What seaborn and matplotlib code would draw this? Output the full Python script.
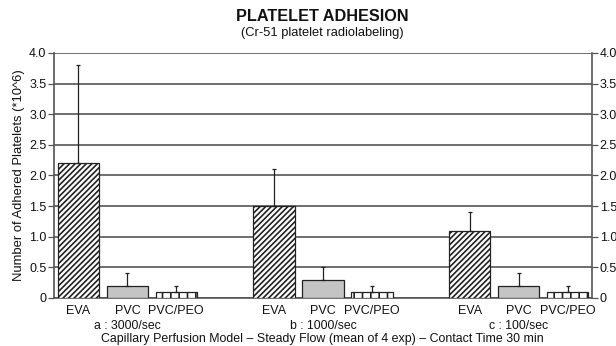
import numpy as np
import pandas as pd
import matplotlib
matplotlib.use("Agg")
import matplotlib.pyplot as plt
import seaborn as sns

# Surface materials and flow conditions
materials = ["EVA", "PVC", "PVC/PEO"]
shear_rates = ["a : 3000/sec", "b : 1000/sec", "c : 100/sec"]

# Mean adhered platelets (x10^6) per shear rate, and upper error
eva_mean = [2.2, 1.5, 1.1]
pvc_mean = [0.2, 0.3, 0.2]
pvcpeo_mean = [0.1, 0.1, 0.1]
eva_err = [1.6, 0.6, 0.3]
pvc_err = [0.2, 0.2, 0.2]
pvcpeo_err = [0.1, 0.1, 0.1]

y_ticks = [0.0, 0.5, 1.0, 1.5, 2.0, 2.5, 3.0, 3.5, 4.0]

sns.set_theme(style="white")
plt.rcParams["font.family"] = ["Liberation Sans", "DejaVu Sans"]
plt.rcParams["hatch.linewidth"] = 1.2

means = [eva_mean, pvc_mean, pvcpeo_mean]
errs = [eva_err, pvc_err, pvcpeo_err]
rows = []
for g, rate in enumerate(shear_rates):
    for m, mat in enumerate(materials):
        rows.append({"rate": rate, "material": mat,
                     "pos": g * (len(materials) + 1) + m,
                     "value": means[m][g], "err": errs[m][g]})
df = pd.DataFrame(rows)

fig, ax = plt.subplots(figsize=(6.16, 3.46), dpi=100)
fig.subplots_adjust(left=0.0877, right=0.961, top=0.847, bottom=0.139)

ax.yaxis.grid(True, color="#555555", linewidth=1.2, zorder=0)
ax.set_axisbelow(True)

sns.barplot(data=df, x="pos", y="value", native_scale=True, width=0.85,
            errorbar=None, color="white", edgecolor="#222222",
            linewidth=0.9, ax=ax, zorder=3)

styles = {"EVA": ("white", "//////"),
          "PVC": ("#c4c4c4", None),
          "PVC/PEO": ("white", "||")}
bars = sorted(ax.patches, key=lambda p: p.get_x())
for bar, (_, r) in zip(bars, df.sort_values("pos").iterrows()):
    fc, hatch = styles[r["material"]]
    bar.set_facecolor(fc)
    if hatch:
        bar.set_hatch(hatch)

ax.errorbar(df["pos"], df["value"],
            yerr=[np.zeros(len(df)), df["err"]],
            fmt="none", ecolor="#222222", elinewidth=0.9,
            capsize=1.2, capthick=0.9, zorder=4)

ax.set_xlim(-0.5, 10.5)
ax.set_ylim(0, 4.0)
ax.set_yticks(y_ticks)
ax.set_yticklabels([f"{t:.1f}" if t > 0 else "0" for t in y_ticks])

ax.set_xticks(df["pos"])
ax.set_xticklabels(df["material"])
ax.set_xticks(np.arange(0.5, 10.0, 1.0), minor=True)
ax.tick_params(axis="x", which="major", length=0, pad=5, labelsize=9,
               colors="#111111")
ax.tick_params(axis="x", which="minor", length=4, direction="inout",
               width=0.8, color="#444444")
ax.tick_params(axis="y", left=True, right=True, labelleft=True,
               labelright=True, length=4, width=0.9, color="#555555",
               labelsize=9, labelcolor="#111111", pad=1.5)

for side in ["left", "right", "bottom"]:
    ax.spines[side].set_color("#555555")
    ax.spines[side].set_linewidth(1.2)
ax.spines["top"].set_visible(False)

ax.set_xlabel("")
ax.set_ylabel("Number of Adhered Platelets (*10^6)", fontsize=9.4,
              color="#111111", labelpad=3)

for g, rate in enumerate(shear_rates):
    ax.text(g * (len(materials) + 1) + 1, -0.455, rate, ha="center",
            va="center", fontsize=8.8, color="#111111",
            transform=ax.transData)

fig.text(0.524, 0.02, "Capillary Perfusion Model \u2013 Steady Flow (mean of 4 exp) \u2013 Contact Time 30 min",
         ha="center", va="center", fontsize=8.9, color="#111111")
fig.text(0.524, 0.93, "PLATELET ADHESION", ha="center", va="bottom",
         fontsize=11.7, fontweight="bold", color="#111111")
fig.text(0.524, 0.887, "(Cr-51 platelet radiolabeling)", ha="center",
         va="bottom", fontsize=9.3, color="#111111")

fig.savefig("out.png", dpi=100)
